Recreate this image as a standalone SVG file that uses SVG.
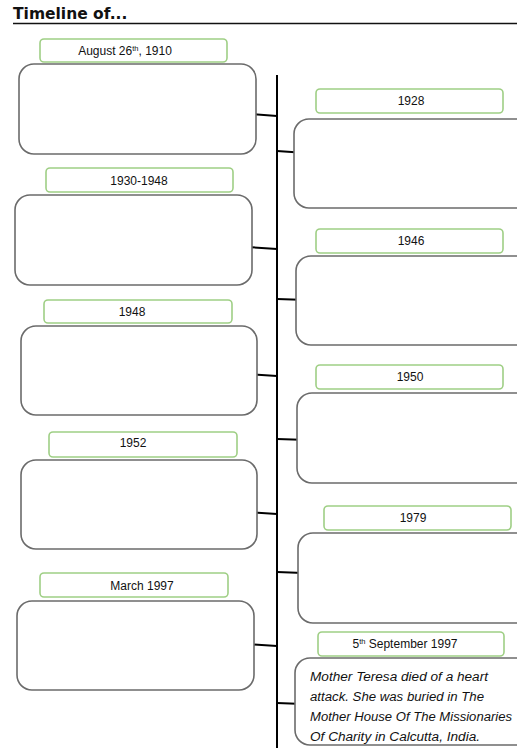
<svg xmlns="http://www.w3.org/2000/svg" width="517" height="748" viewBox="0 0 517 748">
<style>
.box{fill:#fff;stroke:#6b6b6b;stroke-width:1.6}
.lab{fill:#fff;stroke:#9fcf85;stroke-width:1.6}
.t{font-family:"Liberation Sans",Arial,sans-serif;font-size:12px;fill:#111;text-anchor:middle}
.b{font-family:"Liberation Sans",Arial,sans-serif;font-size:12.5px;fill:#111;font-style:italic}
.ln{stroke:#000;stroke-width:2;fill:none}
.sup{font-size:7.5px}
</style>
<rect width="517" height="748" fill="#fff"/>
<g id="title">
<text x="13" y="19" font-family="Verdana,'DejaVu Sans',sans-serif" font-weight="bold" font-size="15.5px" fill="#111">Timeline of...</text>
<line x1="13" y1="23.5" x2="517" y2="23.5" stroke="#111" stroke-width="1.5"/>
</g>
<g id="connectors">
<line class="ln" x1="277" y1="75" x2="277" y2="748" stroke-width="3"/>
<line class="ln" x1="249" y1="114" x2="277" y2="116"/>
<line class="ln" x1="277" y1="151" x2="306" y2="153"/>
<line class="ln" x1="247" y1="247" x2="277" y2="249"/>
<line class="ln" x1="277" y1="299" x2="307" y2="300"/>
<line class="ln" x1="247" y1="374" x2="277" y2="376"/>
<line class="ln" x1="277" y1="439" x2="308" y2="440"/>
<line class="ln" x1="247" y1="512" x2="277" y2="514"/>
<line class="ln" x1="277" y1="572" x2="303" y2="573"/>
<line class="ln" x1="244" y1="644" x2="277" y2="646"/>
<line class="ln" x1="277" y1="703" x2="303" y2="704"/>
</g>
<g id="n1910">
<rect class="lab" x="40" y="39" width="187" height="23" rx="4"/>
<text class="t" x="125" y="55">August 26<tspan class="sup" dy="-4">th</tspan><tspan dy="4">, 1910</tspan></text>
<rect class="box" x="19" y="64" width="237" height="90" rx="15"/>
</g>
<g id="n1928">
<rect class="lab" x="316" y="89" width="187" height="24" rx="4"/>
<text class="t" x="411" y="105">1928</text>
<rect class="box" x="294" y="119" width="250" height="89" rx="15"/>
</g>
<g id="n1930">
<rect class="lab" x="46" y="168" width="187" height="24" rx="4"/>
<text class="t" x="139" y="185">1930-1948</text>
<rect class="box" x="15" y="195" width="237" height="90" rx="15"/>
</g>
<g id="n1946">
<rect class="lab" x="316" y="229" width="187" height="24" rx="4"/>
<text class="t" x="411" y="245">1946</text>
<rect class="box" x="296" y="256" width="250" height="89" rx="15"/>
</g>
<g id="n1948">
<rect class="lab" x="44" y="300" width="188" height="23" rx="4"/>
<text class="t" x="132" y="316">1948</text>
<rect class="box" x="21" y="326" width="236" height="89" rx="15"/>
</g>
<g id="n1950">
<rect class="lab" x="316" y="365" width="187" height="24" rx="4"/>
<text class="t" x="410" y="381">1950</text>
<rect class="box" x="297" y="393" width="250" height="90" rx="15"/>
</g>
<g id="n1952">
<rect class="lab" x="49" y="432" width="188" height="25" rx="4"/>
<text class="t" x="133" y="447">1952</text>
<rect class="box" x="21" y="460" width="236" height="89" rx="15"/>
</g>
<g id="n1979">
<rect class="lab" x="324" y="506" width="187" height="24" rx="4"/>
<text class="t" x="413" y="522">1979</text>
<rect class="box" x="298" y="533" width="250" height="90" rx="15"/>
</g>
<g id="nmar1997">
<rect class="lab" x="40" y="573" width="188" height="24" rx="4"/>
<text class="t" x="142" y="590">March 1997</text>
<rect class="box" x="17" y="601" width="237" height="89" rx="15"/>
</g>
<g id="nsep1997">
<rect class="lab" x="318" y="632" width="186" height="24" rx="4"/>
<text class="t" x="405" y="648">5<tspan class="sup" dy="-4">th</tspan><tspan dy="4"> September 1997</tspan></text>
<rect class="box" x="295" y="658" width="250" height="87" rx="15"/>
<text class="b" x="310" y="681" textLength="178" lengthAdjust="spacingAndGlyphs">Mother Teresa died of a heart</text>
<text class="b" x="310" y="701" textLength="174" lengthAdjust="spacingAndGlyphs">attack. She was buried in The</text>
<text class="b" x="310" y="721" textLength="202" lengthAdjust="spacingAndGlyphs">Mother House Of The Missionaries</text>
<text class="b" x="310" y="741" textLength="170" lengthAdjust="spacingAndGlyphs">Of Charity in Calcutta, India.</text>
</g>
</svg>
